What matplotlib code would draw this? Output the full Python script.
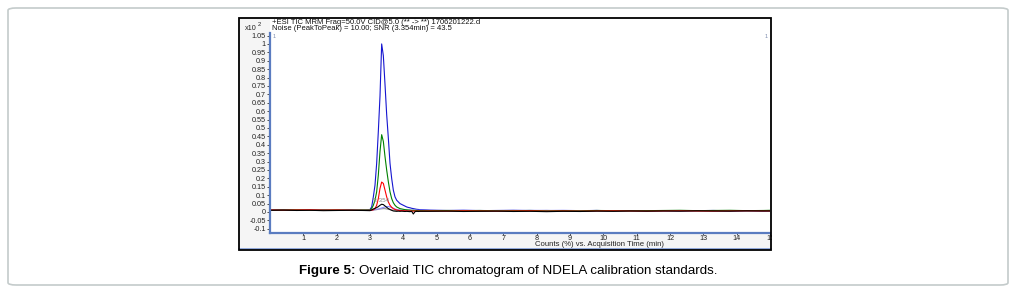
import matplotlib
matplotlib.use("Agg")
import matplotlib.pyplot as plt
from matplotlib.patches import Rectangle, FancyBboxPatch

plt.rcParams["font.family"] = ["Liberation Sans", "DejaVu Sans"]

# retention time grid (min): baseline before, peak region, baseline after
TIME = [0.0, 0.4, 0.8, 1.2, 1.6, 2.0, 2.4, 2.8,
        3.0, 3.05, 3.1, 3.15, 3.2, 3.25, 3.3, 3.35, 3.4, 3.45, 3.5, 3.55, 3.6, 3.65, 3.7, 3.75,
        3.8, 3.85, 3.9, 3.95, 4.0, 4.05, 4.1, 4.15, 4.2, 4.25, 4.3, 4.35, 4.4, 4.45, 4.5,
        4.8, 5.3, 5.8, 6.3, 6.8, 7.3, 7.8, 8.3, 8.8, 9.3, 9.8, 10.3, 10.8, 11.3, 11.8, 12.3,
        12.8, 13.3, 13.8, 14.3, 14.8, 15.0]

# counts x10^2, one list per calibration standard
blue = [0.012, 0.013, 0.011, 0.012, 0.013, 0.011, 0.012, 0.011,
        0.015, 0.03, 0.09, 0.16, 0.29, 0.48, 0.69, 1.0, 0.93, 0.76, 0.58, 0.44, 0.29, 0.20, 0.13, 0.09,
        0.07, 0.06, 0.05, 0.045, 0.04, 0.035, 0.03, 0.027, 0.025, 0.022, 0.02, 0.018, 0.016, 0.015, 0.014,
        0.011, 0.009, 0.010, 0.008, 0.009, 0.010, 0.008, 0.009, 0.007, 0.008, 0.009, 0.007, 0.008, 0.007, 0.008,
        0.007, 0.008, 0.009, 0.007, 0.008, 0.007, 0.008]
green = [0.011, 0.012, 0.013, 0.011, 0.012, 0.012, 0.011, 0.012,
         0.012, 0.02, 0.04, 0.07, 0.12, 0.22, 0.36, 0.46, 0.42, 0.33, 0.25, 0.18, 0.12, 0.08, 0.055, 0.04,
         0.03, 0.025, 0.02, 0.018, 0.016, 0.014, 0.013, 0.012, 0.011, 0.010, 0.010, 0.009, 0.009, 0.008, 0.008,
         0.008, 0.009, 0.008, 0.009, 0.007, 0.008, 0.009, 0.007, 0.008, 0.007, 0.009, 0.008, 0.007, 0.008, 0.009,
         0.010, 0.008, 0.009, 0.010, 0.008, 0.009, 0.010]
red = [0.012, 0.011, 0.012, 0.013, 0.011, 0.012, 0.011, 0.010,
       0.010, 0.011, 0.013, 0.02, 0.04, 0.08, 0.14, 0.178, 0.17, 0.13, 0.09, 0.06, 0.04, 0.028, 0.02, 0.015,
       0.012, 0.010, 0.009, 0.008, 0.008, 0.007, 0.007, 0.006, 0.006, 0.006, 0.005, 0.006, 0.005, 0.006, 0.005,
       0.006, 0.005, 0.007, 0.006, 0.005, 0.006, 0.007, 0.005, 0.006, 0.005, 0.006, 0.007, 0.006, 0.005, 0.006,
       0.007, 0.006, 0.005, 0.006, 0.007, 0.006, 0.006]
black = [0.010, 0.011, 0.009, 0.010, 0.008, 0.009, 0.010, 0.009,
         0.008, 0.012, 0.018, 0.022, 0.026, 0.032, 0.040, 0.046, 0.044, 0.036, 0.028, 0.020, 0.015, 0.010, 0.006, 0.005,
         0.004, 0.005, 0.004, 0.005, 0.004, 0.003, 0.004, 0.003, 0.002, 0.004, -0.012, 0.002, 0.004, 0.003, 0.004,
         0.004, 0.005, 0.003, 0.004, 0.005, 0.003, 0.004, 0.002, 0.004, 0.003, 0.005, 0.004, 0.006, 0.005, 0.006,
         0.005, 0.007, 0.006, 0.005, 0.007, 0.006, 0.006]
purple = [0.011, 0.012, 0.011, 0.010, 0.012, 0.011, 0.010, 0.011,
          0.011, 0.012, 0.013, 0.014, 0.016, 0.018, 0.021, 0.024, 0.027, 0.030, 0.032, 0.033, 0.030, 0.026, 0.022, 0.018,
          0.015, 0.013, 0.012, 0.011, 0.011, 0.010, 0.010, 0.010, 0.011, 0.010, 0.011, 0.010, 0.011, 0.010, 0.011,
          0.009, 0.008, 0.010, 0.009, 0.008, 0.009, 0.010, 0.009, 0.010, 0.008, 0.009, 0.007, 0.008, 0.007, 0.008,
          0.007, 0.008, 0.007, 0.006, 0.007, 0.006, 0.007]
gray = [0.010, 0.011, 0.010, 0.011, 0.010, 0.011, 0.010, 0.011,
        0.010, 0.011, 0.012, 0.013, 0.014, 0.016, 0.018, 0.019, 0.020, 0.020, 0.018, 0.016, 0.014, 0.012, 0.011, 0.010,
        0.009, 0.009, 0.008, 0.008, 0.008, 0.007, 0.008, 0.007, 0.008, 0.007, 0.008, 0.007, 0.008, 0.007, 0.008,
        0.008, 0.007, 0.008, 0.007, 0.008, 0.007, 0.008, 0.007, 0.008, 0.007, 0.008, 0.007, 0.008, 0.007, 0.008,
        0.007, 0.008, 0.007, 0.008, 0.007, 0.008, 0.007]

# drawing order: blue underneath, black on top (as in the reference overlay)
series = [(blue, "#1515d0"), (gray, "#909090"), (purple, "#8a8aff"),
          (green, "#008000"), (red, "#ff0000"), (black, "#000000")]

Y_TICKS = [-0.1, -0.05, 0, 0.05, 0.1, 0.15, 0.2, 0.25, 0.3, 0.35, 0.4, 0.45, 0.5, 0.55,
           0.6, 0.65, 0.7, 0.75, 0.8, 0.85, 0.9, 0.95, 1, 1.05]
X_TICKS = list(range(1, 16))

W, H = 1016, 297
fig = plt.figure(figsize=(W / 100, H / 100), dpi=100)


def fx(px):
    return px / W


def fy(py):
    return 1 - py / H


# outer rounded frame around the figure
fig.add_artist(FancyBboxPatch((fx(8), fy(285)), fx(1000), 277 / H,
                              boxstyle="round,pad=0,rounding_size=0.008",
                              transform=fig.transFigure, facecolor="white",
                              edgecolor="#c4cbcb", linewidth=1.2, zorder=-3))

# chart image background: light grey, white above and inside the plot
fig.add_artist(Rectangle((fx(239), fy(250)), fx(532), 232 / H, transform=fig.transFigure,
                         facecolor="#f5f5f5", edgecolor="none", zorder=-2))
fig.add_artist(Rectangle((fx(270), fy(233)), fx(501), 215 / H, transform=fig.transFigure,
                         facecolor="white", edgecolor="none", zorder=-1))

ax = fig.add_axes([fx(270), fy(233), fx(500), 200 / H])
ax.set_zorder(2)
ax.set_facecolor("white")
for vals, col in series:
    ax.plot(TIME, vals, color=col, linewidth=0.8)

ax.set_xlim(0, 15)
ax.set_ylim(-0.125, 1.065)
ax.set_yticks(Y_TICKS)
ax.set_yticklabels([f"{v:g}" for v in Y_TICKS])
ax.set_xticks(X_TICKS)
ax.set_xticklabels([str(v) for v in X_TICKS])
ax.tick_params(axis="both", labelsize=5.2, length=2.0, width=0.6, color="#333333",
               labelcolor="#222222", pad=1.0)
ax.tick_params(axis="x", length=1.5, pad=0.2)
for s in ["top", "right"]:
    ax.spines[s].set_visible(False)
for s in ["left", "bottom"]:
    ax.spines[s].set_color("#5a7cc0")
    ax.spines[s].set_linewidth(1.6)

ax.text(3.05, 0.067, "*3.354", fontsize=4.5, color="#888888", va="center")
ax.text(0.006, 0.98, "1", transform=ax.transAxes, fontsize=4, color="#7d8cae", va="center")
ax.text(0.996, 0.98, "1", transform=ax.transAxes, fontsize=4, color="#7d8cae", va="center", ha="right")

fig.text(fx(272), fy(22), "+ESI TIC MRM Frag=50.0V CID@5.0 (** -> **) 1706201222.d",
         fontsize=5.5, va="center", color="#111111")
fig.text(fx(272), fy(28.5), "Noise (PeakToPeak) = 10.00; SNR (3.354min) = 43.5",
         fontsize=5.5, va="center", color="#111111")
fig.text(fx(245), fy(28), "x10", fontsize=5.2, va="center", color="#222222")
fig.text(fx(257.5), fy(25), "2", fontsize=4.2, va="center", color="#222222")
fig.text(fx(535), fy(244.5), "Counts (%) vs. Acquisition Time (min)", fontsize=5.6,
         va="center", color="#222222")

# bottom blue strip and black border of the chart image
fig.add_artist(plt.Line2D([fx(239), fx(771)], [fy(248.5), fy(248.5)], transform=fig.transFigure,
                          color="#7e9ad6", linewidth=1.2, zorder=4))
fig.add_artist(Rectangle((fx(772), fy(250)), fx(60), 40 / H, transform=fig.transFigure,
                         facecolor="white", edgecolor="none", zorder=4))
fig.add_artist(Rectangle((fx(239), fy(250)), fx(532), 232 / H, transform=fig.transFigure,
                         facecolor="none", edgecolor="black", linewidth=1.3, zorder=5))

# caption: bold lead-in followed by regular text, centred as a whole
bold = fig.text(0, fy(271), "Figure 5: ", fontsize=9.6, fontweight="bold", va="center")
rest = fig.text(0, fy(271), "Overlaid TIC chromatogram of NDELA calibration standards.",
                fontsize=9.6, va="center")
r = fig.canvas.get_renderer()
wb = bold.get_window_extent(r).width
wr = rest.get_window_extent(r).width
x0 = (W / 2 - (wb + wr) / 2)
bold.set_x(fx(x0))
rest.set_x(fx(x0 + wb))

fig.savefig("out.png", dpi=100)
